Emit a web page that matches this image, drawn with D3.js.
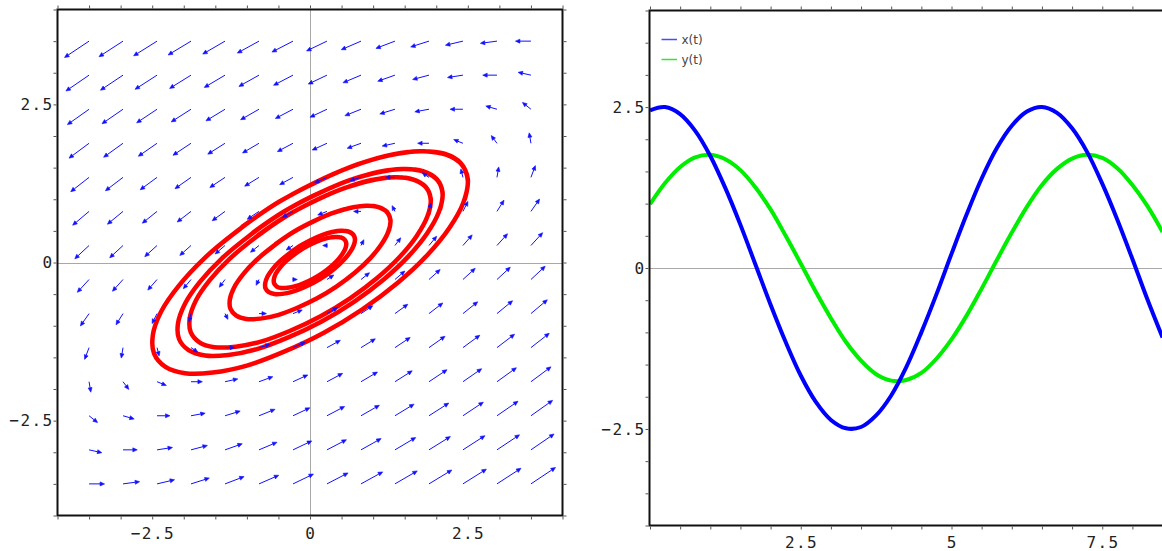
<!DOCTYPE html>
<html><head><meta charset="utf-8">
<script src="https://cdn.jsdelivr.net/npm/d3@7"></script>
<style>body{margin:0;background:#fff;overflow:hidden} svg{display:block}</style>
</head><body><svg id="c" width="1162" height="551"></svg>
<script>
// ---- data ----
const tVals = [0,0.25,0.5,0.75,1,1.25,1.5,1.75,2,2.25,2.5,2.75,3,3.25,3.5,3.75,4,4.25,4.5,4.75,5,5.25,5.5,5.75,6,6.25,6.5,6.75,7,7.25,7.5,7.75,8,8.25,8.5];
const xVals = [2.45,2.50,2.39,2.13,1.74,1.24,0.67,0.05,-0.57,-1.15,-1.67,-2.08,-2.36,-2.49,-2.47,-2.29,-1.98,-1.54,-1.00,-0.41,0.22,0.83,1.39,1.86,2.21,2.43,2.50,2.41,2.17,1.80,1.31,0.75,0.14,-0.49,-1.08];
const yVals = [0.99,1.32,1.57,1.72,1.76,1.69,1.52,1.25,0.91,0.50,0.07,-0.37,-0.78,-1.15,-1.44,-1.65,-1.75,-1.74,-1.63,-1.41,-1.11,-0.74,-0.32,0.12,0.55,0.95,1.29,1.54,1.70,1.76,1.71,1.55,1.29,0.96,0.56];
// relative sizes of the closed orbits in the phase plane (outer = the x(t),y(t) orbit)
const orbitScales = [1, 0.84, 0.765, 0.51, 0.285, 0.23];
// direction field: linear system x' = a x + b y, y' = c x + d y
const fieldRowX = [1, -2];
const fieldRowY = [1, -1];
const fieldGrid = [-3.5,-2.962,-2.423,-1.885,-1.346,-0.808,-0.269,0.269,0.808,1.346,1.885,2.423,2.962,3.5];
const phaseTickLabels = [-2.5, 0, 2.5];
const timeTickLabels = [2.5, 5, 7.5];
const valueTickLabels = [-2.5, 0, 2.5];
const seriesNames = ["x(t)", "y(t)"];
const seriesColors = ["#0000ff", "#00ee00"];
const legendColors = ["#4a4aff", "#33e633"];

// ---- layout ----
const svg = d3.select("#c");
const L = {x0: 57.5, x1: 562.5, y0: 9.5, y1: 515.5};
const R = {x0: 649.5, x1: 1163, y0: 10.5, y1: 525.5};
const xL = d3.scaleLinear().domain([-4, 4]).range([L.x0, L.x1]);
const yL = d3.scaleLinear().domain([-4, 4]).range([L.y1, L.y0]);
const xR = d3.scaleLinear().domain([0, 8.5]).range([R.x0 + 0.5, R.x0 + 0.5 + 8.5 * 60.3]);
const yR = d3.scaleLinear().domain([-4, 4]).range([R.y1, R.y0]);

const labelFont = "'DejaVu Sans Mono', monospace";
const fmt = v => (v < 0 ? "\u2212" : "") + Math.abs(v);

svg.append("defs").html(
  `<clipPath id="clipL"><rect x="${L.x0}" y="${L.y0}" width="${L.x1-L.x0}" height="${L.y1-L.y0}"/></clipPath>
   <clipPath id="clipR"><rect x="${R.x0}" y="${R.y0}" width="${R.x1-R.x0}" height="${R.y1-R.y0}"/></clipPath>`);

function minorTicks(g, scale, orient, pos, lo, hi) {
  const vals = d3.range(lo, hi + 0.001, 0.5);
  const ax = (orient === "top" ? d3.axisTop : orient === "bottom" ? d3.axisBottom : orient === "left" ? d3.axisLeft : d3.axisRight)(scale)
    .tickValues(vals).tickSize(3).tickFormat("");
  const t = (orient === "top" || orient === "bottom") ? `translate(0,${pos})` : `translate(${pos},0)`;
  const gg = g.append("g").attr("transform", t).call(ax);
  gg.select(".domain").remove();
  gg.selectAll("line").attr("stroke", "#555").attr("stroke-width", 1);
}

// ================= LEFT PANEL (phase plane) =================
const gl = svg.append("g");
// axes through origin
gl.append("line").attr("x1", Math.round(xL(0)) + 0.5).attr("x2", Math.round(xL(0)) + 0.5)
  .attr("y1", L.y0).attr("y2", L.y1).attr("stroke", "#a8a8a8").attr("stroke-width", 1);
gl.append("line").attr("y1", Math.round(yL(0)) + 0.5).attr("y2", Math.round(yL(0)) + 0.5)
  .attr("x1", L.x0).attr("x2", L.x1).attr("stroke", "#a8a8a8").attr("stroke-width", 1);

// orbits
const plot = gl.append("g").attr("clip-path", "url(#clipL)");
const orbitLine = d3.line().curve(d3.curveCatmullRom.alpha(0.5));
orbitScales.forEach(s => {
  const pts = tVals.map((t, i) => [xL(xVals[i] * s), yL(yVals[i] * s)]);
  plot.append("path").attr("d", orbitLine(pts)).attr("fill", "none")
    .attr("stroke", "#ff0000").attr("stroke-width", 4.5).attr("stroke-linejoin", "round");
});

// direction field arrows (tail at grid point)
const arrows = plot.append("g");
fieldGrid.forEach(gy => {
  fieldGrid.forEach(gx => {
    const vx = fieldRowX[0] * gx + fieldRowX[1] * gy;
    const vy = fieldRowY[0] * gx + fieldRowY[1] * gy;
    const mag = Math.hypot(vx, vy);
    if (mag === 0) return;
    const len = 8.3 * Math.sqrt(mag);
    const ux = vx / mag, uy = -vy / mag;
    const x0 = xL(gx), y0 = yL(gy);
    const x1 = x0 + ux * len, y1 = y0 + uy * len;
    const hl = 4.5, hw = 2;
    const bx = x1 - ux * hl, by = y1 - uy * hl;
    arrows.append("line").attr("x1", x0).attr("y1", y0).attr("x2", bx).attr("y2", by)
      .attr("stroke", "#1010ff").attr("stroke-width", 1);
    arrows.append("path")
      .attr("d", `M${x1},${y1}L${bx - uy * hw},${by + ux * hw}L${bx + uy * hw},${by - ux * hw}Z`)
      .attr("fill", "#1010ff").attr("stroke", "#1010ff").attr("stroke-width", 0.6);
  });
});

// frame
gl.append("rect").attr("x", L.x0).attr("y", L.y0).attr("width", L.x1 - L.x0).attr("height", L.y1 - L.y0)
  .attr("fill", "none").attr("stroke", "#111").attr("stroke-width", 2);
minorTicks(gl, xL, "top", L.y0 - 1, -4, 4);
minorTicks(gl, xL, "bottom", L.y1 + 1, -4, 4);
minorTicks(gl, yL, "left", L.x0 - 1, -4, 4);
minorTicks(gl, yL, "right", L.x1 + 1, -4, 4);

// tick labels
gl.selectAll("text.xl").data(phaseTickLabels).enter().append("text")
  .attr("x", d => xL(d) + 0.7).attr("y", 533.5 + 5.8).attr("text-anchor", "middle")
  .attr("font-family", labelFont).attr("font-size", 16).attr("letter-spacing", 1.4)
  .attr("fill", "#222").text(fmt);
gl.selectAll("text.yl").data(phaseTickLabels).enter().append("text")
  .attr("x", 53.5).attr("y", d => yL(d) + 5.8).attr("text-anchor", "end")
  .attr("font-family", labelFont).attr("font-size", 16).attr("letter-spacing", 1.4)
  .attr("fill", "#222").text(fmt);

// ================= RIGHT PANEL (time series) =================
const gr = svg.append("g");
gr.append("line").attr("y1", Math.round(yR(0)) + 0.5).attr("y2", Math.round(yR(0)) + 0.5)
  .attr("x1", R.x0).attr("x2", R.x1).attr("stroke", "#a8a8a8").attr("stroke-width", 1);
const plotR = gr.append("g").attr("clip-path", "url(#clipR)");
const series = [xVals, yVals];
const tsLine = d3.line().curve(d3.curveCatmullRom.alpha(0.5));
[1, 0].forEach(k => {
  const pts = tVals.map((t, i) => [xR(t), yR(series[k][i])]);
  plotR.append("path").attr("d", tsLine(pts)).attr("fill", "none")
    .attr("stroke", seriesColors[k]).attr("stroke-width", 4).attr("stroke-linejoin", "round");
});

gr.append("rect").attr("x", R.x0).attr("y", R.y0).attr("width", R.x1 + 20 - R.x0).attr("height", R.y1 - R.y0)
  .attr("fill", "none").attr("stroke", "#111").attr("stroke-width", 2);
minorTicks(gr, xR, "top", R.y0 - 1, 0, 8.5);
minorTicks(gr, xR, "bottom", R.y1 + 1, 0, 8.5);
minorTicks(gr, yR, "left", R.x0 - 1, -4, 4);

gr.selectAll("text.xr").data(timeTickLabels).enter().append("text")
  .attr("x", d => xR(d) + 0.7).attr("y", 542.5 + 5.8).attr("text-anchor", "middle")
  .attr("font-family", labelFont).attr("font-size", 16).attr("letter-spacing", 1.4)
  .attr("fill", "#222").text(fmt);
gr.selectAll("text.yr").data(valueTickLabels).enter().append("text")
  .attr("x", 645.5).attr("y", d => yR(d) + 5.8).attr("text-anchor", "end")
  .attr("font-family", labelFont).attr("font-size", 16).attr("letter-spacing", 1.4)
  .attr("fill", "#222").text(fmt);

// legend
seriesNames.forEach((name, i) => {
  const ly = 39.5 + i * 20;
  gr.append("line").attr("x1", 661.5).attr("x2", 677).attr("y1", ly).attr("y2", ly)
    .attr("stroke", legendColors[i]).attr("stroke-width", 1.5);
  gr.append("text").attr("x", 681.5).attr("y", ly + 4.3)
    .attr("font-family", "'DejaVu Sans', Verdana, sans-serif").attr("font-size", 12)
    .attr("fill", "#444").text(name);
});
</script>
</body></html>
